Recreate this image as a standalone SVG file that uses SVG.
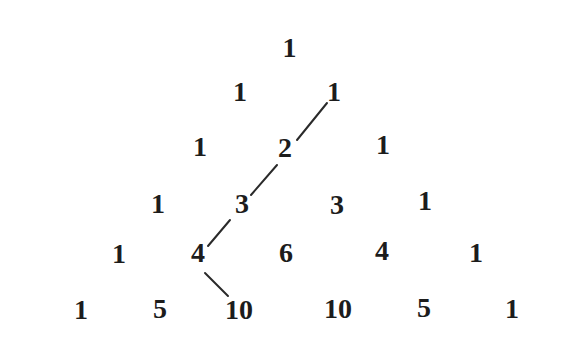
<svg xmlns="http://www.w3.org/2000/svg" width="583" height="356" viewBox="0 0 583 356">
<style>
text{font-family:"Liberation Serif","Times New Roman",serif;font-weight:bold;font-size:28px;fill:#1c1c1c;text-anchor:middle}
.c line{stroke:#2a2a2a;stroke-width:2;stroke-linecap:round}
</style>
<rect width="583" height="356" fill="#fff"/>
<g id="r0"><text x="289.5" y="57">1</text></g>
<g id="r1"><text x="240" y="101">1</text><text x="334" y="101">1</text></g>
<g id="r2"><text x="200" y="156">1</text><text x="285" y="157">2</text><text x="383" y="154">1</text></g>
<g id="r3"><text x="158" y="213">1</text><text x="242" y="213">3</text><text x="337" y="214">3</text><text x="425" y="210">1</text></g>
<g id="r4"><text x="119" y="263">1</text><text x="198" y="262">4</text><text x="286" y="262">6</text><text x="382" y="260">4</text><text x="476" y="262">1</text></g>
<g id="r5"><text x="81" y="319">1</text><text x="160" y="318">5</text><text x="239" y="319">10</text><text x="338" y="318">10</text><text x="424" y="317">5</text><text x="512" y="318">1</text></g>
<g class="c" id="connectors">
<line x1="327" y1="103" x2="297" y2="140"/>
<line x1="277" y1="165" x2="251" y2="195"/>
<line x1="230" y1="220" x2="208" y2="246"/>
<line x1="205" y1="273" x2="228" y2="296"/>
</g>
</svg>
